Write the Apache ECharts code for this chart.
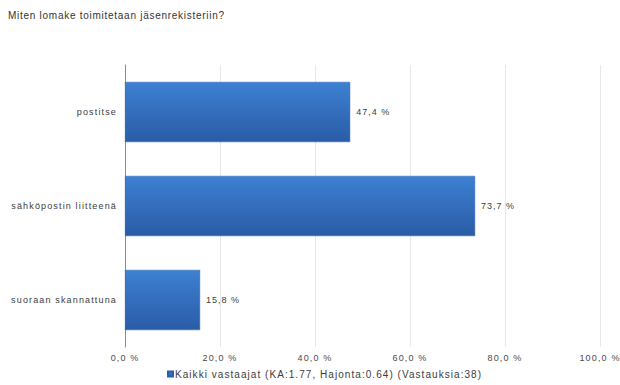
<!DOCTYPE html>
<html>
<head>
<meta charset="utf-8">
<script src="https://cdn.jsdelivr.net/npm/echarts@6/dist/echarts.min.js"></script>
<style>
  html, body { margin: 0; padding: 0; background: #ffffff; }
  #chart { width: 620px; height: 385px; }
</style>
</head>
<body>
<div id="chart"></div>
<script>
// Answer options (top to bottom) and share of respondents, %
const categories = ['postitse', 'sähköpostin liitteenä', 'suoraan skannattuna'];
const values = [47.4, 73.7, 15.8];
const seriesName = 'Kaikki vastaajat (KA:1.77, Hajonta:0.64) (Vastauksia:38)';
const titleText = 'Miten lomake toimitetaan jäsenrekisteriin?';

const fmt = v => v.toFixed(1).replace('.', ',') + ' %';
const font = 'Liberation Sans, Arial, sans-serif';

const chart = echarts.init(document.getElementById('chart'), null, { renderer: 'svg' });
chart.setOption({
  animation: false,
  backgroundColor: '#ffffff',
  title: {
    text: titleText,
    left: 3,
    top: 5,
    textStyle: { fontFamily: font, fontSize: 10, fontWeight: 'normal', color: '#333333' }
  },
  legend: {
    top: 367,
    left: 162,
    padding: [2, 5, 2, 5],
    itemWidth: 5,
    itemHeight: 5,
    itemGap: 3,
    icon: 'rect',
    textStyle: { fontFamily: font, fontSize: 10, color: '#3c3c3c', padding: [0, 0, 0, -3] },
    data: [seriesName]
  },
  grid: { left: 125, right: 20, top: 65, bottom: 38, containLabel: false },
  xAxis: {
    type: 'value',
    min: 0,
    max: 100,
    interval: 20,
    axisLine: { show: false },
    axisTick: { show: false },
    splitLine: { show: true, lineStyle: { color: '#e8e8e8', width: 1 } },
    axisLabel: {
      formatter: v => fmt(v),
      fontFamily: font,
      fontSize: 9,
      color: '#4a4a4a',
      margin: 6
    }
  },
  yAxis: {
    type: 'category',
    inverse: true,
    data: categories,
    axisLine: { show: true, lineStyle: { color: '#8c8c8c', width: 1 } },
    axisTick: { show: false },
    axisLabel: {
      fontFamily: font,
      fontSize: 9,
      color: '#3c3c3c',
      margin: 8
    }
  },
  series: [{
    name: seriesName,
    type: 'bar',
    data: values,
    barCategoryGap: '36%',
    itemStyle: {
      color: new echarts.graphic.LinearGradient(0, 0, 0, 1, [
        { offset: 0, color: '#3d80d2' },
        { offset: 1, color: '#2a5ca6' }
      ]),
      borderColor: '#2b5ea8',
      borderWidth: 0.5
    },
    label: {
      show: true,
      position: 'right',
      distance: 6,
      formatter: p => fmt(p.value),
      fontFamily: font,
      fontSize: 9,
      color: '#3c3c3c'
    }
  }]
});

// Widen the tracking of the drawn text: the title a little, the rest more
function applyTracking() {
  document.querySelectorAll('#chart svg text').forEach(t => {
    const s = t.textContent;
    let ls = '1.15px';
    if (s === titleText) ls = '0.73px';
    else if (s === seriesName) ls = '1.05px';
    else if (values.some(v => fmt(v) === s)) ls = '1.0px';
    t.style.letterSpacing = ls;
  });
}
chart.getZr().flush();
applyTracking();
chart.on('finished', applyTracking);
</script>
</body>
</html>
